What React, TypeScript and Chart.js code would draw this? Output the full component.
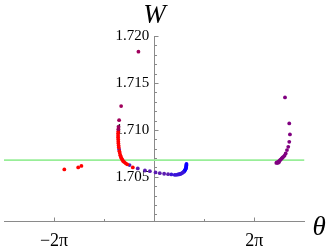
import React, { useEffect, useRef } from 'react';
import { Chart, registerables } from 'chart.js';

Chart.register(...registerables);

const PI = Math.PI;
const xMin = -3 * PI;
const xMax = 3 * PI;
const yMin = 1.7003;
const yMax = 1.72;

const xMajorTicks = [-2 * PI, 2 * PI];
const xTickLabels = ['\u22122\u03c0', '2\u03c0'];
const xMinorTicks = [-PI, PI];
const yMajorTicks = [1.705, 1.71, 1.715, 1.72];
const yTickLabels = ['1.705', '1.710', '1.715', '1.720'];
const yMinorTicks = [1.701, 1.702, 1.703, 1.704, 1.706, 1.707, 1.708, 1.709, 1.711, 1.712, 1.713, 1.714, 1.716, 1.717, 1.718, 1.719];

const referenceW = 1.70678;

const redTheta = [-5.64, -4.77, -4.57, -2.26, -2.267, -2.267, -2.267, -2.26, -2.254, -2.248, -2.236, -2.225, -2.186, -2.161, -2.13, -2.099, -2.056, -2.006, -1.944, -1.882, -1.789, -1.696, -1.345];
const redW = [1.70579, 1.706, 1.70617, 1.70982, 1.70961, 1.70939, 1.70918, 1.70897, 1.70875, 1.70854, 1.70833, 1.70813, 1.70774, 1.70753, 1.70731, 1.70715, 1.70699, 1.70683, 1.70667, 1.70657, 1.70644, 1.70633, 1.706];

const magentaTheta = [-0.992, -2.077, -2.205, -2.242, -2.254];
const magentaW = [1.71833, 1.71254, 1.71104, 1.71033, 1.71008];

const violetTheta = [-2.205, -1.55, -1.035, -0.583, -0.273, 0.081, 0.347, 0.62, 0.868];
const violetW = [1.70792, 1.70625, 1.7059, 1.70568, 1.70561, 1.70547, 1.70539, 1.70533, 1.70529];

const indigoTheta = [1.073, 1.277, 1.38, 1.488, 1.57, 1.631, 1.69, 1.755, 1.81];
const indigoW = [1.70526, 1.70522, 1.70522, 1.70525, 1.70528, 1.70531, 1.70535, 1.70542, 1.70548];

const blueTheta = [1.86, 1.897, 1.928, 1.959, 1.978, 1.996, 2.002, 2.015, 2.015, 2.021];
const blueW = [1.70555, 1.70563, 1.70571, 1.7058, 1.7059, 1.70599, 1.70609, 1.70618, 1.70627, 1.70638];

const purpleTheta = [8.202, 8.469, 8.512, 8.469, 8.407, 8.326, 8.245, 8.171, 8.097, 8.047, 7.997, 7.941, 7.892, 7.842, 7.787, 7.737, 7.688, 7.657, 7.755, 7.83];
const purpleW = [1.71346, 1.71069, 1.70952, 1.70873, 1.7082, 1.70785, 1.70749, 1.70726, 1.70713, 1.70705, 1.70696, 1.70687, 1.70678, 1.7067, 1.7066, 1.70655, 1.70654, 1.70648, 1.70648, 1.70657];

const AXIS_COLOR = '#8a8a8a';
const FONT = '"Liberation Serif", "DejaVu Serif", serif';

const zip = (xs: number[], ys: number[]) => xs.map((x, i) => ({ x, y: ys[i] }));

const pointSet = (label: string, xs: number[], ys: number[], color: string) => ({
  type: 'scatter' as const,
  label,
  data: zip(xs, ys),
  backgroundColor: color,
  borderWidth: 0,
  pointRadius: 1.9,
  showLine: false,
});

const decorPlugin = {
  id: 'decor',
  afterDraw(chart: any) {
    const { ctx, scales } = chart;
    const x = scales.x;
    const y = scales.y;
    const x0 = Math.round(x.getPixelForValue(0)) + 0.5;
    const yAxis = Math.round(y.getPixelForValue(yMin)) + 0.5;
    ctx.save();
    ctx.strokeStyle = AXIS_COLOR;
    ctx.lineWidth = 1;
    ctx.beginPath();
    yMajorTicks.forEach((v) => {
      const p = Math.round(y.getPixelForValue(v)) + 0.5;
      ctx.moveTo(x0, p);
      ctx.lineTo(x0 + 4, p);
    });
    yMinorTicks.forEach((v) => {
      const p = Math.round(y.getPixelForValue(v)) + 0.5;
      ctx.moveTo(x0, p);
      ctx.lineTo(x0 + 2.5, p);
    });
    xMajorTicks.forEach((v) => {
      const p = Math.round(x.getPixelForValue(v)) + 0.5;
      ctx.moveTo(p, yAxis);
      ctx.lineTo(p, yAxis - 4);
    });
    xMinorTicks.forEach((v) => {
      const p = Math.round(x.getPixelForValue(v)) + 0.5;
      ctx.moveTo(p, yAxis);
      ctx.lineTo(p, yAxis - 2.5);
    });
    ctx.stroke();
    ctx.fillStyle = '#000';
    ctx.font = `italic 27px ${FONT}`;
    ctx.textBaseline = 'alphabetic';
    ctx.textAlign = 'center';
    ctx.fillText('W', x0, 22.5);
    ctx.textAlign = 'left';
    ctx.fillText('\u03b8', x.right + 8, yAxis + 13);
    ctx.restore();
  },
};

export default function App() {
  const canvasRef = useRef<HTMLCanvasElement | null>(null);

  useEffect(() => {
    if (!canvasRef.current) return;
    const chart = new Chart(canvasRef.current, {
      type: 'scatter',
      data: {
        datasets: [
          pointSet('magenta', magentaTheta, magentaW, '#a0005c'),
          pointSet('red', redTheta, redW, '#ff0000'),
          pointSet('violet', violetTheta, violetW, '#5c1cb0'),
          pointSet('indigo', indigoTheta, indigoW, '#3a14d8'),
          pointSet('blue', blueTheta, blueW, '#0a00ff'),
          pointSet('purple', purpleTheta, purpleW, '#800080'),
          {
            type: 'line' as const,
            label: 'reference',
            data: [
              { x: xMin, y: referenceW },
              { x: xMax, y: referenceW },
            ],
            borderColor: '#98ee98',
            borderWidth: 1.6,
            pointRadius: 0,
            fill: false,
          },
        ] as any,
      },
      options: {
        animation: false,
        responsive: false,
        maintainAspectRatio: false,
        events: [],
        layout: { padding: { left: 1, right: 22.5, top: 36, bottom: 30 } },
        plugins: { legend: { display: false }, tooltip: { enabled: false }, title: { display: false } },
        scales: {
          x: {
            type: 'linear',
            min: xMin,
            max: xMax,
            position: { y: yMin } as any,
            afterBuildTicks: (scale: any) => {
              scale.ticks = xMajorTicks.map((v) => ({ value: v }));
            },
            grid: { display: true, drawOnChartArea: false, drawTicks: true, tickLength: 4, tickColor: 'rgba(0,0,0,0)' },
            border: { display: true, color: AXIS_COLOR, width: 1 },
            ticks: {
              autoSkip: false,
              maxRotation: 0,
              padding: 5,
              color: '#000',
              font: { family: FONT, size: 18 },
              callback: (_v: any, i: number) => xTickLabels[i],
            },
          },
          y: {
            type: 'linear',
            min: yMin,
            max: yMax,
            position: 'center',
            afterBuildTicks: (scale: any) => {
              scale.ticks = yMajorTicks.map((v) => ({ value: v }));
            },
            grid: { display: true, drawOnChartArea: false, drawTicks: false },
            border: { display: true, color: AXIS_COLOR, width: 1 },
            ticks: {
              autoSkip: false,
              padding: 5,
              color: '#000',
              font: { family: FONT, size: 15 },
              callback: (_v: any, i: number) => yTickLabels[i],
            },
          },
        },
      } as any,
      plugins: [decorPlugin],
    });
    return () => chart.destroy();
  }, []);

  return (
    <div style={{ position: 'fixed', left: 0, top: 0, width: 327, height: 251, background: '#fff' }}>
      <canvas ref={canvasRef} width={327} height={251} style={{ width: 327, height: 251, display: 'block' }} />
    </div>
  );
}
